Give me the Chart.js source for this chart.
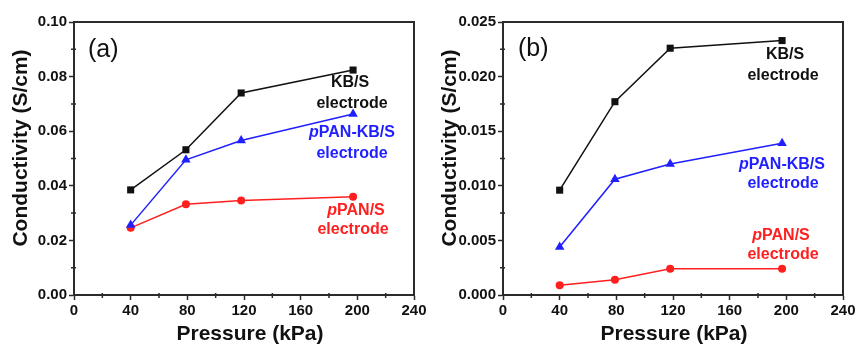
<!DOCTYPE html>
<html>
<head>
<meta charset="utf-8">
<script src="https://cdn.jsdelivr.net/npm/chart.js@4.4.1/dist/chart.umd.min.js"></script>
<style>
  html, body { margin: 0; padding: 0; background: #fff; }
  #wrap { display: flex; width: 858px; height: 345px; }
  canvas { display: block; }
</style>
</head>
<body>
<div id="wrap">
  <canvas id="chartA" width="429" height="345"></canvas>
  <canvas id="chartB" width="429" height="345"></canvas>
</div>
<script>
(() => {
  "use strict";

  // ── data ────────────────────────────────────────────────────────────────
  const PRESSURE = [40, 79, 118, 197];                    // kPa
  const X_TICKS = [0, 40, 80, 120, 160, 200, 240];

  // (a)
  const A_KBS      = [0.0385, 0.0532, 0.0740, 0.0824];
  const A_PPAN_KBS = [0.0256, 0.0495, 0.0566, 0.0663];
  const A_PPAN_S   = [0.0246, 0.0332, 0.0346, 0.0360];
  const A_Y_TICKS  = [0.00, 0.02, 0.04, 0.06, 0.08, 0.10];

  // (b)
  const B_KBS      = [0.0096, 0.0177, 0.0226, 0.0233];
  const B_PPAN_KBS = [0.0044, 0.0106, 0.0120, 0.0139];
  const B_PPAN_S   = [0.0009, 0.0014, 0.0024, 0.0024];
  const B_Y_TICKS  = [0.000, 0.005, 0.010, 0.015, 0.020, 0.025];

  const FONT = "'Liberation Sans', Arial, sans-serif";
  const AXIS = "#2b2b2b";
  const BLACK = "#111", BLUE = "#1f1fff", RED = "#ff1f1f";

  const pts = (ys) => PRESSURE.map((x, i) => ({ x, y: ys[i] }));

  const series = (ys, color, style, r) => ({
    data: pts(ys), borderColor: color, backgroundColor: color, borderWidth: 1.5,
    pointStyle: style, pointRadius: r, pointBorderWidth: 0, tension: 0,
  });

  // ── annotations, titles, frame, minor ticks ─────────────────────────────
  const decor = {
    id: "decor",
    afterDraw(chart) {
      const o = chart.options.plugins.decor;
      const { ctx, chartArea: a, scales } = chart;
      ctx.save();

      // frame (top + right sides)
      ctx.strokeStyle = AXIS; ctx.lineWidth = 2;
      ctx.beginPath();
      ctx.moveTo(a.left, a.top); ctx.lineTo(a.right, a.top); ctx.lineTo(a.right, a.bottom);
      ctx.stroke();

      // minor ticks
      ctx.lineWidth = 1.5;
      ctx.beginPath();
      for (const v of o.xMinor) {
        const px = scales.x.getPixelForValue(v);
        ctx.moveTo(px, a.bottom - 2); ctx.lineTo(px, a.bottom + 3);
      }
      for (const v of o.yMinor) {
        const py = scales.y.getPixelForValue(v);
        ctx.moveTo(a.left - 3, py); ctx.lineTo(a.left + 2, py);
      }
      ctx.stroke();

      // axis titles
      ctx.fillStyle = BLACK;
      ctx.font = `bold 21px ${FONT}`;
      ctx.textAlign = "center"; ctx.textBaseline = "middle";
      ctx.fillText("Pressure (kPa)", o.xTitle[0], o.xTitle[1]);
      ctx.save();
      ctx.translate(o.yTitle[0], o.yTitle[1]);
      ctx.rotate(-Math.PI / 2);
      ctx.fillText("Conductivity (S/cm)", 0, 0);
      ctx.restore();

      // panel tag
      ctx.font = `25px ${FONT}`;
      ctx.textAlign = "left";
      ctx.fillText(o.tag, o.tagPos[0], o.tagPos[1]);

      // series labels
      ctx.textAlign = "left";
      for (const lab of o.labels) {
        const parts = lab.parts.map((p) => ({ ...p, font: `${p.it ? "italic " : ""}bold 16px ${FONT}` }));
        let w = 0;
        for (const p of parts) { ctx.font = p.font; w += ctx.measureText(p.t).width; }
        let x = lab.x - w / 2;
        ctx.fillStyle = lab.color;
        for (const p of parts) {
          ctx.font = p.font; ctx.fillText(p.t, x, lab.y); x += ctx.measureText(p.t).width;
        }
      }
      ctx.restore();
    },
  };

  const labelSet = (pos) => [
    { parts: [{ t: "KB/S" }], color: BLACK, x: pos[0][0], y: pos[0][1] },
    { parts: [{ t: "electrode" }], color: BLACK, x: pos[1][0], y: pos[1][1] },
    { parts: [{ t: "p", it: true }, { t: "PAN-KB/S" }], color: BLUE, x: pos[2][0], y: pos[2][1] },
    { parts: [{ t: "electrode" }], color: BLUE, x: pos[3][0], y: pos[3][1] },
    { parts: [{ t: "p", it: true }, { t: "PAN/S" }], color: RED, x: pos[4][0], y: pos[4][1] },
    { parts: [{ t: "electrode" }], color: RED, x: pos[5][0], y: pos[5][1] },
  ];

  function makeChart(id, kbs, pkbs, ps, yTicks, digits, decorOpts) {
    const yMax = yTicks[yTicks.length - 1];
    return new Chart(document.getElementById(id), {
      type: "line",
      data: { datasets: [
        series(kbs, BLACK, "rect", 5),
        series(pkbs, BLUE, "triangle", 5.5),
        series(ps, RED, "circle", 4),
      ]},
      options: {
        responsive: false, animation: false, devicePixelRatio: 1,
        layout: { padding: { top: 22, right: 15, left: 0, bottom: 0 } },
        plugins: { legend: { display: false }, tooltip: { enabled: false }, decor: decorOpts },
        scales: {
          x: {
            type: "linear", min: X_TICKS[0], max: X_TICKS[X_TICKS.length - 1],
            afterBuildTicks: (s) => { s.ticks = X_TICKS.map((v) => ({ value: v })); },
            afterFit: (s) => { s.height = 50; },
            grid: { drawOnChartArea: false, tickLength: 5, tickColor: AXIS, tickWidth: 1.5 },
            border: { color: AXIS, width: 2 },
            ticks: { color: BLACK, padding: 2, maxRotation: 0, font: { family: FONT, size: 15, weight: "bold" } },
          },
          y: {
            min: 0, max: yMax,
            afterBuildTicks: (s) => { s.ticks = yTicks.map((v) => ({ value: v })); },
            afterFit: (s) => { s.width = 74; },
            grid: { drawOnChartArea: false, tickLength: 5, tickColor: AXIS, tickWidth: 1.5 },
            border: { color: AXIS, width: 2 },
            ticks: { color: BLACK, padding: 2, font: { family: FONT, size: 15, weight: "bold" },
                     callback: (v) => Number(v).toFixed(digits) },
          },
        },
      },
      plugins: [decor],
    });
  }

  const X_MINOR = [20, 60, 100, 140, 180, 220];

  makeChart("chartA", A_KBS, A_PPAN_KBS, A_PPAN_S, A_Y_TICKS, 2, {
    tag: "(a)", tagPos: [88, 50],
    xTitle: [250, 334], yTitle: [21, 148],
    xMinor: X_MINOR, yMinor: [0.01, 0.03, 0.05, 0.07, 0.09],
    labels: labelSet([[350, 83], [352, 104], [352, 133], [352, 154], [356, 211], [353, 230]]),
  });

  makeChart("chartB", B_KBS, B_PPAN_KBS, B_PPAN_S, B_Y_TICKS, 3, {
    tag: "(b)", tagPos: [89, 49],
    xTitle: [245, 334], yTitle: [21, 148],
    xMinor: X_MINOR, yMinor: [0.0025, 0.0075, 0.0125, 0.0175, 0.0225],
    labels: labelSet([[356, 55], [354, 76], [353, 165], [354, 184], [352, 236], [354, 255]]),
  });
})();
</script>
</body>
</html>
